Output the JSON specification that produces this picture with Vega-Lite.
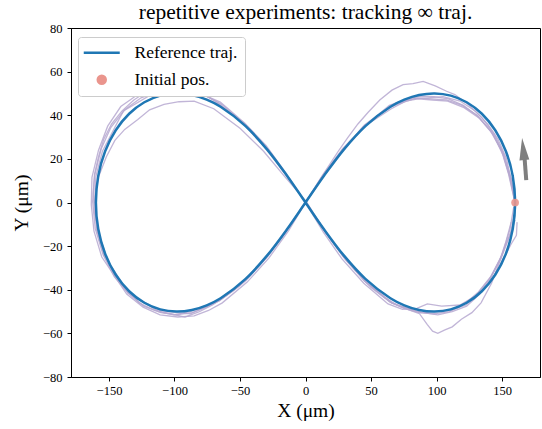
{
  "$schema": "https://vega.github.io/schema/vega-lite/v6.json",
  "width": 469,
  "height": 349,
  "autosize": {"type": "none"},
  "padding": {"left": 71, "top": 28, "right": 2, "bottom": 52},
  "title": {"text": "repetitive experiments: tracking ∞ traj.", "font": "Liberation Serif", "fontSize": 21.5, "fontWeight": "normal", "color": "black", "anchor": "middle", "frame": "group", "offset": 0, "dy": 1},
  "config": {
    "view": {"stroke": "black", "strokeWidth": 1},
    "axis": {"labelFont": "Liberation Serif", "labelFontSize": 12.5, "labelColor": "black", "titleFont": "Liberation Serif", "titleFontSize": 19.5, "titleFontWeight": "normal", "titleColor": "black", "grid": false, "domainColor": "black", "tickColor": "black", "tickSize": 4, "labelPadding": 3}
  },
  "datasets": {
    "traj": [
      {"k":"A","i":0,"x":160,"y":0},{"k":"A","i":1,"x":155.5,"y":12.5},{"k":"A","i":2,"x":150.5,"y":23.0},{"k":"A","i":3,"x":142.0,"y":32.5},{"k":"A","i":4,"x":131.5,"y":39.5},{"k":"A","i":5,"x":120.5,"y":44.5},{"k":"A","i":6,"x":109.0,"y":47.5},{"k":"A","i":7,"x":98.0,"y":48.5},{"k":"A","i":8,"x":87.0,"y":48.8},{"k":"A","i":9,"x":76.0,"y":47.0},{"k":"A","i":10,"x":64.0,"y":44.5},{"k":"A","i":11,"x":55.0,"y":40.0},{"k":"A","i":12,"x":45.0,"y":35.5},{"k":"A","i":13,"x":37.0,"y":30.0},{"k":"A","i":14,"x":28.5,"y":24.8},{"k":"A","i":15,"x":13.5,"y":12.8},{"k":"A","i":16,"x":0.5,"y":0.5},{"k":"A","i":17,"x":-13.5,"y":-12.0},{"k":"A","i":18,"x":-28.5,"y":-24.5},{"k":"A","i":19,"x":-45.0,"y":-35.5},{"k":"A","i":20,"x":-55.0,"y":-40.5},{"k":"A","i":21,"x":-64.5,"y":-44.5},{"k":"A","i":22,"x":-75.5,"y":-48.0},{"k":"A","i":23,"x":-86.5,"y":-50.5},{"k":"A","i":24,"x":-98.5,"y":-51.5},{"k":"A","i":25,"x":-110.5,"y":-50.5},{"k":"A","i":26,"x":-123.5,"y":-47.5},{"k":"A","i":27,"x":-135.5,"y":-41.5},{"k":"A","i":28,"x":-146.0,"y":-34.0},{"k":"A","i":29,"x":-154.5,"y":-24.0},{"k":"A","i":30,"x":-160.5,"y":-12.0},{"k":"A","i":31,"x":-162.5,"y":0.5},{"k":"A","i":32,"x":-161.0,"y":12.5},{"k":"A","i":33,"x":-156.0,"y":24.5},{"k":"A","i":34,"x":-148.5,"y":34.5},{"k":"A","i":35,"x":-138.0,"y":42.5},{"k":"A","i":36,"x":-125.5,"y":48.0},{"k":"A","i":37,"x":-112.0,"y":51.0},{"k":"A","i":38,"x":-99.0,"y":52.0},{"k":"A","i":39,"x":-86.5,"y":51.0},{"k":"A","i":40,"x":-75.0,"y":48.5},{"k":"A","i":41,"x":-64.0,"y":45.0},{"k":"A","i":42,"x":-45.5,"y":35.5},{"k":"A","i":43,"x":-29.5,"y":25.0},{"k":"A","i":44,"x":-14.5,"y":12.5},{"k":"A","i":45,"x":0,"y":0},{"k":"A","i":46,"x":14.5,"y":-13.0},{"k":"A","i":47,"x":29.0,"y":-25.0},{"k":"A","i":48,"x":45.0,"y":-36.0},{"k":"A","i":49,"x":64.0,"y":-45.5},{"k":"A","i":50,"x":75.0,"y":-48.5},{"k":"A","i":51,"x":86.5,"y":-50.5},{"k":"A","i":52,"x":98.0,"y":-51.0},{"k":"A","i":53,"x":110.0,"y":-50.0},{"k":"A","i":54,"x":121.5,"y":-46.5},{"k":"A","i":55,"x":132.0,"y":-41.0},{"k":"A","i":56,"x":142.0,"y":-33.5},{"k":"A","i":57,"x":150.0,"y":-24.0},{"k":"A","i":58,"x":156.0,"y":-12.5},{"k":"A","i":59,"x":159.0,"y":-2.0},
      {"k":"B","i":0,"x":160.5,"y":-1.0},{"k":"B","i":1,"x":156.5,"y":11.0},{"k":"B","i":2,"x":151.0,"y":21.5},{"k":"B","i":3,"x":143.5,"y":31.0},{"k":"B","i":4,"x":133.0,"y":38.5},{"k":"B","i":5,"x":121.0,"y":43.5},{"k":"B","i":6,"x":108.5,"y":46.5},{"k":"B","i":7,"x":97.0,"y":47.0},{"k":"B","i":8,"x":86.0,"y":47.5},{"k":"B","i":9,"x":76.5,"y":46.5},{"k":"B","i":10,"x":65.5,"y":43.0},{"k":"B","i":11,"x":46.5,"y":35.5},{"k":"B","i":12,"x":30.0,"y":25.5},{"k":"B","i":13,"x":15.0,"y":13.5},{"k":"B","i":14,"x":1.0,"y":1.0},{"k":"B","i":15,"x":-13.0,"y":-13.0},{"k":"B","i":16,"x":-28.0,"y":-25.5},{"k":"B","i":17,"x":-44.5,"y":-36.5},{"k":"B","i":18,"x":-63.5,"y":-46.0},{"k":"B","i":19,"x":-74.0,"y":-49.5},{"k":"B","i":20,"x":-85.0,"y":-52.0},{"k":"B","i":21,"x":-97.5,"y":-52.5},{"k":"B","i":22,"x":-111.0,"y":-51.5},{"k":"B","i":23,"x":-124.0,"y":-48.0},{"k":"B","i":24,"x":-136.5,"y":-42.0},{"k":"B","i":25,"x":-155.5,"y":-25.0},{"k":"B","i":26,"x":-161.5,"y":-13.0},{"k":"B","i":27,"x":-163.5,"y":-1.0},{"k":"B","i":28,"x":-163.0,"y":11.5},{"k":"B","i":29,"x":-158.0,"y":24.0},{"k":"B","i":30,"x":-151.0,"y":35.0},{"k":"B","i":31,"x":-141.0,"y":44.0},{"k":"B","i":32,"x":-128.0,"y":49.5},{"k":"B","i":33,"x":-113.5,"y":52.5},{"k":"B","i":34,"x":-100.0,"y":53.0},{"k":"B","i":35,"x":-88.0,"y":52.0},{"k":"B","i":36,"x":-65.0,"y":46.0},{"k":"B","i":37,"x":-46.5,"y":36.5},{"k":"B","i":38,"x":-30.0,"y":26.0},{"k":"B","i":39,"x":-15.0,"y":13.5},{"k":"B","i":40,"x":-0.5,"y":0.5},{"k":"B","i":41,"x":13.5,"y":-13.5},{"k":"B","i":42,"x":28.0,"y":-26.0},{"k":"B","i":43,"x":44.5,"y":-37.0},{"k":"B","i":44,"x":63.0,"y":-46.5},{"k":"B","i":45,"x":74.0,"y":-49.0},{"k":"B","i":46,"x":85.0,"y":-48.5},{"k":"B","i":47,"x":93.0,"y":-46.5},{"k":"B","i":48,"x":104.0,"y":-47.5},{"k":"B","i":49,"x":118.0,"y":-47.0},{"k":"B","i":50,"x":130.5,"y":-42.5},{"k":"B","i":51,"x":140.5,"y":-35.0},{"k":"B","i":52,"x":149.0,"y":-25.5},{"k":"B","i":53,"x":156.5,"y":-14.0},{"k":"B","i":54,"x":160.0,"y":-4.0},
      {"k":"C","i":0,"x":160,"y":0},{"k":"C","i":1,"x":157.0,"y":11.0},{"k":"C","i":2,"x":151.5,"y":22.0},{"k":"C","i":3,"x":144.0,"y":31.5},{"k":"C","i":4,"x":134.5,"y":39.0},{"k":"C","i":5,"x":124.0,"y":45.0},{"k":"C","i":6,"x":114.0,"y":49.5},{"k":"C","i":7,"x":107.7,"y":51.0},{"k":"C","i":8,"x":99.0,"y":53.5},{"k":"C","i":9,"x":89.8,"y":55.5},{"k":"C","i":10,"x":82.0,"y":54.5},{"k":"C","i":11,"x":74.5,"y":54.0},{"k":"C","i":12,"x":66.0,"y":51.5},{"k":"C","i":13,"x":56.7,"y":47.0},{"k":"C","i":14,"x":48.0,"y":41.5},{"k":"C","i":15,"x":40.0,"y":36.0},{"k":"C","i":16,"x":32.0,"y":29.5},{"k":"C","i":17,"x":25.0,"y":23.5},{"k":"C","i":18,"x":12.0,"y":11.5},{"k":"C","i":19,"x":0,"y":0},{"k":"C","i":20,"x":-14.5,"y":-12.5},{"k":"C","i":21,"x":-29.5,"y":-24.5},{"k":"C","i":22,"x":-46.0,"y":-35.5},{"k":"C","i":23,"x":-65.5,"y":-45.0},{"k":"C","i":24,"x":-88.0,"y":-51.0},{"k":"C","i":25,"x":-99.0,"y":-50.5},{"k":"C","i":26,"x":-111.5,"y":-49.5},{"k":"C","i":27,"x":-135.5,"y":-41.5},{"k":"C","i":28,"x":-154.0,"y":-24.0},{"k":"C","i":29,"x":-159.5,"y":-12.5},{"k":"C","i":30,"x":-161.0,"y":1.0},{"k":"C","i":31,"x":-160.0,"y":12.0},{"k":"C","i":32,"x":-155.0,"y":23.5},{"k":"C","i":33,"x":-139.0,"y":42.0},{"k":"C","i":34,"x":-115.0,"y":50.5},{"k":"C","i":35,"x":-102.0,"y":51.5},{"k":"C","i":36,"x":-89.0,"y":50.5},{"k":"C","i":37,"x":-66.0,"y":45.0},{"k":"C","i":38,"x":-47.0,"y":36.0},{"k":"C","i":39,"x":-30.0,"y":25.0},{"k":"C","i":40,"x":-15.0,"y":13.0},{"k":"C","i":41,"x":0,"y":0},{"k":"C","i":42,"x":15.0,"y":-13.0},{"k":"C","i":43,"x":30.0,"y":-25.5},{"k":"C","i":44,"x":46.5,"y":-36.5},{"k":"C","i":45,"x":66.0,"y":-46.0},{"k":"C","i":46,"x":80.0,"y":-49.5},{"k":"C","i":47,"x":87.0,"y":-51.0},{"k":"C","i":48,"x":93.0,"y":-56.0},{"k":"C","i":49,"x":97.0,"y":-59.0},{"k":"C","i":50,"x":101.0,"y":-60.0},{"k":"C","i":51,"x":106.0,"y":-58.5},{"k":"C","i":52,"x":112.0,"y":-57.0},{"k":"C","i":53,"x":119.0,"y":-53.5},{"k":"C","i":54,"x":127.0,"y":-50.5},{"k":"C","i":55,"x":134.0,"y":-46.0},{"k":"C","i":56,"x":142.0,"y":-37.0},{"k":"C","i":57,"x":149.0,"y":-26.0},{"k":"C","i":58,"x":156.0,"y":-15.0},{"k":"C","i":59,"x":160.0,"y":-8.0},
      {"k":"D","i":0,"x":159.5,"y":1.0},{"k":"D","i":1,"x":155.0,"y":13.0},{"k":"D","i":2,"x":149.5,"y":24.0},{"k":"D","i":3,"x":141.0,"y":33.0},{"k":"D","i":4,"x":131.0,"y":40.0},{"k":"D","i":5,"x":119.5,"y":44.5},{"k":"D","i":6,"x":107.5,"y":47.0},{"k":"D","i":7,"x":96.5,"y":47.5},{"k":"D","i":8,"x":85.0,"y":48.0},{"k":"D","i":9,"x":75.0,"y":46.0},{"k":"D","i":10,"x":63.5,"y":43.5},{"k":"D","i":11,"x":44.5,"y":35.0},{"k":"D","i":12,"x":28.0,"y":24.0},{"k":"D","i":13,"x":13.5,"y":12.0},{"k":"D","i":14,"x":-0.5,"y":-0.5},{"k":"D","i":15,"x":-14.5,"y":-13.0},{"k":"D","i":16,"x":-30.0,"y":-25.0},{"k":"D","i":17,"x":-47.0,"y":-36.0},{"k":"D","i":18,"x":-66.0,"y":-45.0},{"k":"D","i":19,"x":-88.0,"y":-50.0},{"k":"D","i":20,"x":-100.5,"y":-51.5},{"k":"D","i":21,"x":-112.0,"y":-50.0},{"k":"D","i":22,"x":-135.0,"y":-41.5},{"k":"D","i":23,"x":-153.5,"y":-24.5},{"k":"D","i":24,"x":-159.0,"y":-12.0},{"k":"D","i":25,"x":-160.5,"y":0.0},{"k":"D","i":26,"x":-158.5,"y":11.0},{"k":"D","i":27,"x":-152.0,"y":21.0},{"k":"D","i":28,"x":-145.5,"y":28.5},{"k":"D","i":29,"x":-138.0,"y":33.5},{"k":"D","i":30,"x":-128.0,"y":38.0},{"k":"D","i":31,"x":-119.0,"y":42.5},{"k":"D","i":32,"x":-108.0,"y":45.0},{"k":"D","i":33,"x":-96.5,"y":46.2},{"k":"D","i":34,"x":-85.0,"y":46.5},{"k":"D","i":35,"x":-70.0,"y":43.0},{"k":"D","i":36,"x":-50.0,"y":34.0},{"k":"D","i":37,"x":-32.0,"y":23.5},{"k":"D","i":38,"x":-16.0,"y":12.0},{"k":"D","i":39,"x":0.5,"y":0.5},{"k":"D","i":40,"x":14.0,"y":-12.5},{"k":"D","i":41,"x":29.5,"y":-25.0},{"k":"D","i":42,"x":46.0,"y":-36.5},{"k":"D","i":43,"x":65.5,"y":-46.0},{"k":"D","i":44,"x":88.0,"y":-50.5},{"k":"D","i":45,"x":99.0,"y":-50.0},{"k":"D","i":46,"x":111.0,"y":-49.5},{"k":"D","i":47,"x":122.5,"y":-47.0},{"k":"D","i":48,"x":132.5,"y":-42.0},{"k":"D","i":49,"x":142.5,"y":-35.0},{"k":"D","i":50,"x":150.0,"y":-27.0},{"k":"D","i":51,"x":157.0,"y":-19.0},{"k":"D","i":52,"x":161.0,"y":-15.0},{"k":"D","i":53,"x":161.5,"y":-9.0},
      {"k":"E","i":0,"x":160,"y":1},{"k":"E","i":1,"x":157,"y":10},{"k":"E","i":2,"x":153.5,"y":20},{"k":"E","i":3,"x":147,"y":29},{"k":"E","i":4,"x":139,"y":36},{"k":"E","i":5,"x":129.5,"y":42},{"k":"E","i":6,"x":118,"y":46.5},{"k":"E","i":7,"x":105,"y":48.5},{"k":"E","i":8,"x":93,"y":48},{"k":"E","i":9,"x":81,"y":47.5},{"k":"E","i":10,"x":70,"y":45.5},{"k":"E","i":11,"x":58,"y":41},{"k":"E","i":12,"x":47,"y":36},{"k":"E","i":13,"x":38,"y":30},{"k":"E","i":14,"x":29,"y":24},{"k":"E","i":15,"x":21,"y":17.5},{"k":"E","i":16,"x":13,"y":11.5},{"k":"E","i":17,"x":6,"y":5},{"k":"E","i":18,"x":0,"y":0},{"k":"E","i":19,"x":-7,"y":-6},{"k":"E","i":20,"x":-15,"y":-13.5},{"k":"E","i":21,"x":-23,"y":-20},{"k":"E","i":22,"x":-31,"y":-26},{"k":"E","i":23,"x":-40,"y":-32},{"k":"E","i":24,"x":-50,"y":-38},{"k":"E","i":25,"x":-60,"y":-42.5},{"k":"E","i":26,"x":-71,"y":-47},{"k":"E","i":27,"x":-81,"y":-50},{"k":"E","i":28,"x":-92,"y":-52.5},{"k":"E","i":29,"x":-103,"y":-51},{"k":"E","i":30,"x":-115,"y":-49.5},{"k":"E","i":31,"x":-127,"y":-46},{"k":"E","i":32,"x":-138,"y":-39.5},{"k":"E","i":33,"x":-147,"y":-32},{"k":"E","i":34,"x":-153,"y":-23},{"k":"E","i":35,"x":-158,"y":-14},{"k":"E","i":36,"x":-161,"y":-5},{"k":"E","i":37,"x":-162,"y":4},{"k":"E","i":38,"x":-161,"y":13},{"k":"E","i":39,"x":-158,"y":21},{"k":"E","i":40,"x":-154,"y":29},{"k":"E","i":41,"x":-148,"y":36},{"k":"E","i":42,"x":-140,"y":42},{"k":"E","i":43,"x":-131,"y":47},{"k":"E","i":44,"x":-121,"y":51},{"k":"E","i":45,"x":-110,"y":52.5},{"k":"E","i":46,"x":-99,"y":53},{"k":"E","i":47,"x":-89,"y":51.5},{"k":"E","i":48,"x":-79,"y":50},{"k":"E","i":49,"x":-69,"y":46.5},{"k":"E","i":50,"x":-59,"y":42},{"k":"E","i":51,"x":-49,"y":37},{"k":"E","i":52,"x":-39,"y":30.5},{"k":"E","i":53,"x":-30,"y":24.5},{"k":"E","i":54,"x":-21,"y":17.5},{"k":"E","i":55,"x":-13,"y":11},{"k":"E","i":56,"x":-6,"y":5.5},{"k":"E","i":57,"x":0,"y":0},{"k":"E","i":58,"x":7,"y":-6},{"k":"E","i":59,"x":15,"y":-13},{"k":"E","i":60,"x":23,"y":-20},{"k":"E","i":61,"x":31,"y":-26.5},{"k":"E","i":62,"x":40,"y":-32.5},{"k":"E","i":63,"x":50,"y":-39},{"k":"E","i":64,"x":60,"y":-43.5},{"k":"E","i":65,"x":70,"y":-47},{"k":"E","i":66,"x":80,"y":-49},{"k":"E","i":67,"x":90,"y":-50.5},{"k":"E","i":68,"x":101,"y":-51.5},{"k":"E","i":69,"x":112,"y":-50},{"k":"E","i":70,"x":123,"y":-47.5},{"k":"E","i":71,"x":133,"y":-42},{"k":"E","i":72,"x":141,"y":-35},{"k":"E","i":73,"x":148,"y":-27},{"k":"E","i":74,"x":153,"y":-18},{"k":"E","i":75,"x":157,"y":-9}
    ],
    "ref": [
      {"i":-1,"x":158.19,"y":-12.19},{"i":0,"x":160,"y":0},{"i":1,"x":158.19,"y":12.19},{"i":2,"x":152.96,"y":23.48},{"i":3,"x":144.85,"y":33.14},{"i":4,"x":134.61,"y":40.69},{"i":5,"x":123.03,"y":45.96},{"i":6,"x":110.85,"y":48.99},{"i":7,"x":98.62,"y":50.0},{"i":8,"x":86.73,"y":49.28},{"i":9,"x":75.43,"y":47.14},{"i":10,"x":64.81,"y":43.88},{"i":11,"x":45.71,"y":34.99},{"i":12,"x":29.06,"y":24.14},{"i":13,"x":14.10,"y":12.28},{"i":14,"x":0,"y":0},{"i":15,"x":-14.10,"y":-12.28},{"i":16,"x":-29.06,"y":-24.14},{"i":17,"x":-45.71,"y":-34.99},{"i":18,"x":-64.81,"y":-43.88},{"i":19,"x":-75.43,"y":-47.14},{"i":20,"x":-86.73,"y":-49.28},{"i":21,"x":-98.62,"y":-50.0},{"i":22,"x":-110.85,"y":-48.99},{"i":23,"x":-123.03,"y":-45.96},{"i":24,"x":-134.61,"y":-40.69},{"i":25,"x":-144.85,"y":-33.14},{"i":26,"x":-152.96,"y":-23.48},{"i":27,"x":-158.19,"y":-12.19},{"i":28,"x":-160,"y":0},{"i":29,"x":-158.19,"y":12.19},{"i":30,"x":-152.96,"y":23.48},{"i":31,"x":-144.85,"y":33.14},{"i":32,"x":-134.61,"y":40.69},{"i":33,"x":-123.03,"y":45.96},{"i":34,"x":-110.85,"y":48.99},{"i":35,"x":-98.62,"y":50.0},{"i":36,"x":-86.73,"y":49.28},{"i":37,"x":-75.43,"y":47.14},{"i":38,"x":-64.81,"y":43.88},{"i":39,"x":-45.71,"y":34.99},{"i":40,"x":-29.06,"y":24.14},{"i":41,"x":-14.10,"y":12.28},{"i":42,"x":0,"y":0},{"i":43,"x":14.10,"y":-12.28},{"i":44,"x":29.06,"y":-24.14},{"i":45,"x":45.71,"y":-34.99},{"i":46,"x":64.81,"y":-43.88},{"i":47,"x":75.43,"y":-47.14},{"i":48,"x":86.73,"y":-49.28},{"i":49,"x":98.62,"y":-50.0},{"i":50,"x":110.85,"y":-48.99},{"i":51,"x":123.03,"y":-45.96},{"i":52,"x":134.61,"y":-40.69},{"i":53,"x":144.85,"y":-33.14},{"i":54,"x":152.96,"y":-23.48},{"i":55,"x":158.19,"y":-12.19},{"i":56,"x":160,"y":0},{"i":57,"x":158.19,"y":12.19}
    ],
    "init": [{"x": 160, "y": 0}],
    "shaft": [{"x": 168.5, "y": 10.3, "x2": 167.2, "y2": 20.5}],
    "head": [{"x": 166.2, "y": 24.5}]
  },
  "encoding": {
    "x": {"field": "x", "type": "quantitative", "scale": {"domain": [-179, 179], "nice": false, "zero": false}, "axis": {"title": "X (μm)", "values": [-150, -100, -50, 0, 50, 100, 150], "titlePadding": 5}},
    "y": {"field": "y", "type": "quantitative", "scale": {"domain": [-80, 80], "nice": false, "zero": false}, "axis": {"title": "Y (μm)", "values": [-80, -60, -40, -20, 0, 20, 40, 60, 80], "titlePadding": 11, "labelPadding": 5}}
  },
  "layer": [
    {
      "data": {"name": "traj"},
      "mark": {"type": "line", "color": "#b6a8d0", "strokeWidth": 1.3, "opacity": 0.85},
      "encoding": {"detail": {"field": "k"}, "order": {"field": "i", "type": "quantitative"}}
    },
    {
      "data": {"name": "ref"},
      "mark": {"type": "line", "strokeWidth": 2.5, "interpolate": "catmull-rom"},
      "encoding": {
        "order": {"field": "i", "type": "quantitative"},
        "color": {
          "datum": "Reference traj.",
          "type": "nominal",
          "scale": {"domain": ["Reference traj.", "Initial pos."], "range": ["#1f77b4", "#ea958d"]},
          "legend": {
            "orient": "none", "legendX": 7, "legendY": 9, "title": null,
            "fillColor": "white", "strokeColor": "#cccccc", "cornerRadius": 3, "padding": 7,
            "labelFont": "Liberation Serif", "labelFontSize": 17.5, "labelColor": "black",
            "symbolSize": 400, "symbolOffset": 8, "labelOffset": 24, "rowPadding": 8,
            "encode": {
              "symbols": {
                "update": {
                  "shape": {"signal": "datum.value === 'Reference traj.' ? 'M-1.8,0L1.8,0' : 'circle'"},
                  "size": {"signal": "datum.value === 'Reference traj.' ? 400 : 64"},
                  "stroke": {"signal": "datum.value === 'Reference traj.' ? '#1f77b4' : 'transparent'"},
                  "fill": {"signal": "datum.value === 'Reference traj.' ? 'transparent' : '#ea958d'"},
                  "strokeWidth": {"value": 2.5},
                  "opacity": {"value": 1},
                  "fillOpacity": {"value": 1},
                  "strokeOpacity": {"value": 1}
                }
              }
            }
          }
        }
      }
    },
    {
      "data": {"name": "init"},
      "mark": {"type": "point", "filled": true, "size": 60, "opacity": 0.9},
      "encoding": {"color": {"datum": "Initial pos.", "type": "nominal"}}
    },
    {
      "data": {"name": "shaft"},
      "mark": {"type": "rule", "color": "#7f7f7f", "strokeWidth": 4},
      "encoding": {"x2": {"field": "x2"}, "y2": {"field": "y2"}}
    },
    {
      "data": {"name": "head"},
      "mark": {"type": "point", "filled": true, "color": "#7f7f7f", "opacity": 1, "shape": "M-0.45,1L0,-1L0.45,1Z", "size": 484, "angle": -6},
      "encoding": {}
    }
  ]
}
